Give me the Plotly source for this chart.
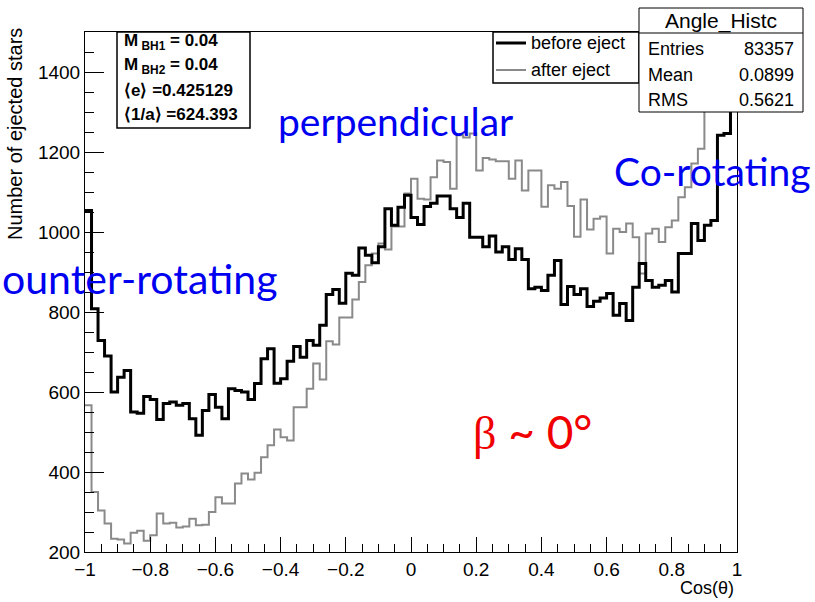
import numpy as np
import plotly.graph_objects as go

# Cos(theta) histogram: 100 bins on [-1, 1]
bin_edges = np.linspace(-1.0, 1.0, 101)

before_eject = [
    1054, 808, 729, 690, 600, 637, 654, 550, 547, 589,
    581, 531, 571, 575, 567, 571, 533, 492, 554, 594,
    562, 533, 608, 604, 600, 581, 621, 683, 708, 622,
    633, 677, 714, 687, 729, 717, 767, 844, 856, 822,
    897, 892, 960, 942, 923, 963, 1058, 1017, 1062, 1092,
    1036, 1019, 1064, 1072, 1090, 1090, 1058, 1036, 1072, 987,
    987, 963, 990, 950, 963, 931, 958, 931, 858, 862,
    854, 892, 929, 819, 864, 844, 858, 814, 827, 835,
    846, 792, 821, 779, 862, 921, 879, 862, 867, 879,
    850, 946, 946, 1021, 979, 1017, 1029, 1242, 1246, 1420,
]

after_eject = [
    567, 350, 304, 271, 233, 231, 221, 248, 253, 228,
    242, 296, 271, 273, 261, 264, 283, 267, 268, 300,
    337, 321, 321, 371, 396, 381, 398, 437, 467, 506,
    487, 479, 562, 562, 608, 671, 631, 727, 719, 786,
    786, 831, 875, 917, 946, 971, 956, 1014, 1014, 1096,
    1133, 1083, 1081, 1137, 1179, 1175, 1108, 1242, 1236, 1246,
    1154, 1185, 1181, 1177, 1177, 1133, 1179, 1104, 1154, 1154,
    1063, 1117, 1108, 1125, 1065, 988, 1081, 1006, 1033, 1039,
    946, 1008, 1000, 1021, 987, 896, 996, 1008, 975, 1012,
    1029, 1087, 1112, 1171, 1208, 1308, 1454, 1540, 1580, 1560,
]

x_tick_vals = [-1, -0.8, -0.6, -0.4, -0.2, 0, 0.2, 0.4, 0.6, 0.8, 1]
y_tick_vals = [200, 400, 600, 800, 1000, 1200, 1400]

stats_names = ["Entries", "Mean", "RMS"]
stats_values = ["83357", "0.0899", "0.5621"]

ROOT_FONT = "Liberation Sans, Arial, Helvetica, sans-serif"
NOTE_FONT = "Lato, Open Sans, sans-serif"

W, H = 815, 602
L, R, T, B = 85, 737, 32, 552   # frame in pixels


def px(x):
    return (x - L) / (R - L)


def py(y):
    return (B - y) / (B - T)


def steps(values):
    # repeat last value at the right edge so the final bin is closed
    return list(bin_edges), list(values) + [values[-1]]


fig = go.Figure()
for vals, color, width, name in [
    (after_eject, "#8a8a8a", 2, "after eject"),
    (before_eject, "black", 3, "before eject"),
]:
    xs, ys = steps(vals)
    fig.add_trace(go.Scatter(
        x=xs, y=ys, mode="lines", name=name,
        line=dict(color=color, width=width, shape="hv"),
        showlegend=False, hoverinfo="skip",
    ))

shapes = []
annotations = []

# parameter box (top left)
shapes.append(dict(type="rect", xref="paper", yref="paper",
                   x0=px(117), x1=px(250), y0=py(128), y1=py(32),
                   line=dict(color="black", width=1.5), fillcolor="white",
                   layer="above"))
param_lines = [
    "<b>M<sub> BH1</sub> = 0.04</b>",
    "<b>M<sub> BH2</sub> = 0.04</b>",
    "<b>\u27e8e\u27e9 =0.425129</b>",
    "<b>\u27e81/a\u27e9 =624.393</b>",
]
for i, t in enumerate(param_lines):
    annotations.append(dict(text=t, xref="paper", yref="paper",
                            x=px(122), y=py(42 + 24.3 * i),
                            xanchor="left", yanchor="middle", showarrow=False,
                            font=dict(family=ROOT_FONT, size=17, color="black")))

# legend box
shapes.append(dict(type="rect", xref="paper", yref="paper",
                   x0=px(493), x1=px(639), y0=py(83), y1=py(32),
                   line=dict(color="black", width=1.5), fillcolor="white",
                   layer="above"))
for yy, color, width, label in [(43, "black", 3, "before eject"),
                                (70, "#8a8a8a", 2, "after eject")]:
    shapes.append(dict(type="line", xref="paper", yref="paper",
                       x0=px(496), x1=px(526), y0=py(yy), y1=py(yy),
                       line=dict(color=color, width=width), layer="above"))
    annotations.append(dict(text=label, xref="paper", yref="paper",
                            x=px(529), y=py(yy), xanchor="left", yanchor="middle",
                            showarrow=False,
                            font=dict(family=ROOT_FONT, size=18, color="black")))

# statistics box
shapes.append(dict(type="rect", xref="paper", yref="paper",
                   x0=px(639), x1=px(803), y0=py(112), y1=py(8),
                   line=dict(color="black", width=1), fillcolor="white",
                   layer="above"))
shapes.append(dict(type="line", xref="paper", yref="paper",
                   x0=px(639), x1=px(803), y0=py(33), y1=py(33),
                   line=dict(color="black", width=1), layer="above"))
annotations.append(dict(text="Angle_Histc", xref="paper", yref="paper",
                        x=px(721), y=py(21), xanchor="center", yanchor="middle",
                        showarrow=False,
                        font=dict(family=ROOT_FONT, size=21, color="black")))
for i, (n, v) in enumerate(zip(stats_names, stats_values)):
    yy = 49 + 25.5 * i
    annotations.append(dict(text=n, xref="paper", yref="paper",
                            x=px(646), y=py(yy), xanchor="left", yanchor="middle",
                            showarrow=False,
                            font=dict(family=ROOT_FONT, size=18, color="black")))
    annotations.append(dict(text=v, xref="paper", yref="paper",
                            x=px(796), y=py(yy), xanchor="right", yanchor="middle",
                            showarrow=False,
                            font=dict(family=ROOT_FONT, size=18, color="black")))

# axis titles placed at the axis ends
annotations.append(dict(text="Number of ejected stars", xref="paper", yref="paper",
                        x=px(15), y=py(134), xanchor="center", yanchor="middle",
                        textangle=-90, showarrow=False,
                        font=dict(family=ROOT_FONT, size=20, color="black")))
annotations.append(dict(text="Cos(\u03b8)", xref="paper", yref="paper",
                        x=px(736), y=py(588), xanchor="right", yanchor="middle",
                        showarrow=False,
                        font=dict(family=ROOT_FONT, size=18, color="black")))

# region labels
beta_label = ('<span style="font-family:Liberation Serif, DejaVu Serif, serif">'
              '\u03b2</span> ~ 0\u00b0')
for text, cx, cy, anchor, color, size in [
    ("perpendicular", 395, 121, "center", "#0000f0", 39),
    ("Co-rotating", 712, 171, "center", "#0000f0", 39),
    ("ounter-rotating", 0, 278, "left", "#0000f0", 41),
    (beta_label, 532, 432, "center", "#f00000", 46),
]:
    annotations.append(dict(text=text, xref="paper", yref="paper",
                            x=px(cx), y=py(cy), xanchor=anchor, yanchor="middle",
                            showarrow=False,
                            font=dict(family=NOTE_FONT, size=size, color=color)))

axis_common = dict(
    showgrid=False, zeroline=False, showline=True, linecolor="black",
    linewidth=1, mirror=True, ticks="inside", tickcolor="black",
    tickfont=dict(family=ROOT_FONT, size=19, color="black"),
)

fig.update_layout(
    width=W, height=H,
    margin=dict(l=L, r=W - R, t=T, b=H - B),
    paper_bgcolor="white", plot_bgcolor="white",
    xaxis=dict(range=[-1, 1], tickvals=x_tick_vals, ticklen=15,
               minor=dict(dtick=0.05, ticklen=8, ticks="inside",
                          tickcolor="black"),
               **axis_common),
    yaxis=dict(range=[200, 1500], tickvals=y_tick_vals, ticklen=19,
               minor=dict(dtick=50, ticklen=9, ticks="inside",
                          tickcolor="black"),
               **axis_common),
    shapes=shapes,
    annotations=annotations,
)

fig.write_html("out.html")
